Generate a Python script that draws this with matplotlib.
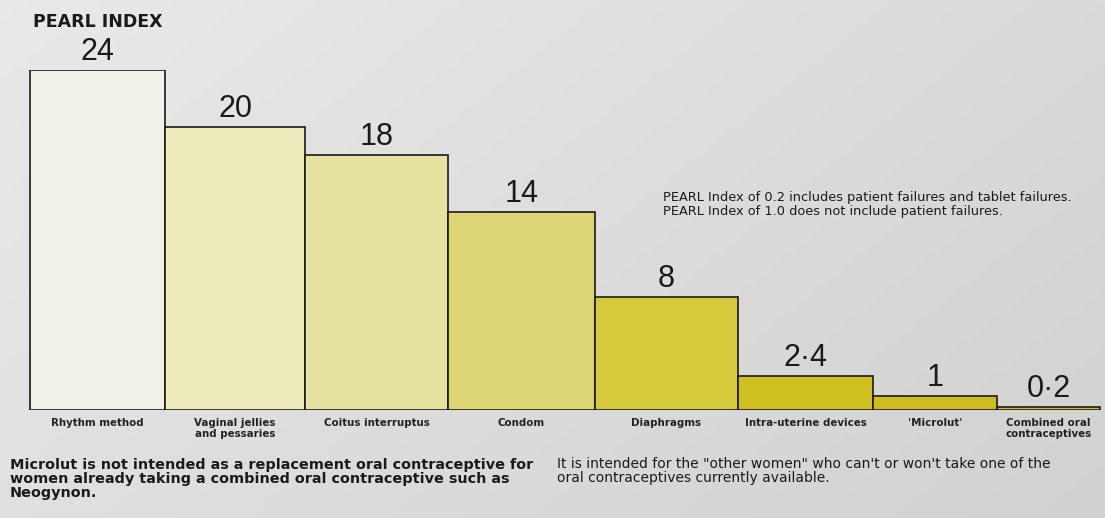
import numpy as np
import matplotlib.pyplot as plt

methods = ["Rhythm method", "Vaginal jellies\nand pessaries", "Coitus interruptus",
           "Condom", "Diaphragms", "Intra-uterine devices", "'Microlut'",
           "Combined oral\ncontraceptives"]
pearl = [24, 20, 18, 14, 8, 2.4, 1, 0.2]
value_labels = ["24", "20", "18", "14", "8", "2·4", "1", "0·2"]
colors = ["#f2f1e8", "#eeecbc", "#e6e29f", "#ddd574", "#d5ca3c",
          "#cfc021", "#cdbd20", "#d0be24"]

# bar edges in pixels along the figure width
edges = np.array([30, 165, 305, 448, 595, 738, 873, 997, 1100])

W, H = 1105, 518
fig = plt.figure(figsize=(W / 100, H / 100), dpi=100)
plt.rcParams["font.family"] = ["Liberation Sans", "DejaVu Sans"]
small = ["DejaVu Sans"]

# paper background, lighter at the top left
bg = fig.add_axes([0, 0, 1, 1], zorder=-1)
gx, gy = np.meshgrid(np.linspace(0, 1, 200), np.linspace(0, 1, 100))
level = 0.915 - 0.06 * gx - 0.035 * gy
bg.imshow(np.dstack([level, level, level]), aspect="auto", extent=[0, 1, 0, 1])
bg.axis("off")

base_px, top_px = 410, 70
ax = fig.add_axes([0, (H - base_px) / H, 1, (base_px - top_px) / H])
ax.set_xlim(0, W)
ax.set_ylim(0, 24)
ax.axis("off")

lefts = edges[:-1]
widths = np.diff(edges)
ax.bar(lefts, pearl, width=widths, align="edge", color=colors,
       edgecolor="#1a1a1a", linewidth=1.2)

for x, w, v, s in zip(lefts, widths, pearl, value_labels):
    ax.text(x + w / 2, v + 0.2, s, ha="center", va="bottom",
            fontsize=22, color="#1a1a1a")
for x, w, m in zip(lefts, widths, methods):
    ax.text(x + w / 2, -0.6, m, ha="center", va="top", fontsize=7.4,
            fontweight="bold", color="#222222", linespacing=1.05, family=small)

fig.text(33 / W, 1 - 22 / H, "PEARL INDEX", ha="left", va="center",
         fontsize=12.5, fontweight="bold", color="#1a1a1a", family=small)
fig.text(663 / W, 1 - 204 / H,
         "PEARL Index of 0.2 includes patient failures and tablet failures.\n"
         "PEARL Index of 1.0 does not include patient failures.",
         ha="left", va="center", fontsize=9.3, color="#1a1a1a",
         linespacing=1.1, family=small)
fig.text(10 / W, 1 - 479 / H,
         "Microlut is not intended as a replacement oral contraceptive for\n"
         "women already taking a combined oral contraceptive such as\n"
         "Neogynon.",
         ha="left", va="center", fontsize=10.4, fontweight="bold",
         color="#1a1a1a", linespacing=1.0, family=small)
fig.text(557 / W, 1 - 471 / H,
         "It is intended for the \"other women\" who can't or won't take one of the\n"
         "oral contraceptives currently available.",
         ha="left", va="center", fontsize=10, color="#1a1a1a",
         linespacing=1.05, family=small)

fig.savefig("out.png", dpi=100)
